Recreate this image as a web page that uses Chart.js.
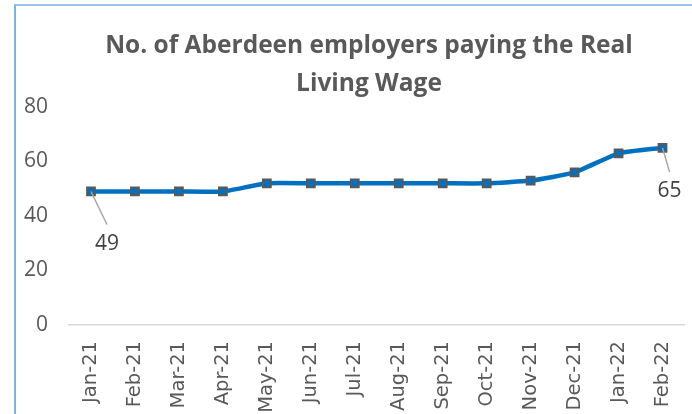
<!DOCTYPE html>
<html>
<head>
<meta charset="utf-8">
<script src="https://cdn.jsdelivr.net/npm/chart.js@4/dist/chart.umd.min.js"></script>
<style>
  html, body { margin: 0; padding: 0; background: #ffffff; }
  #wrap { position: relative; width: 692px; height: 414px; overflow: hidden; }
  #frame { position: absolute; left: 14px; top: 4px; width: 700px; height: 430px;
           border-left: 2px solid #7eb1de; border-top: 2px solid #9cc5ea; }
  canvas { position: absolute; left: 0; top: 0; }
</style>
</head>
<body>
<div id="wrap">
  <div id="frame"></div>
  <canvas id="c" width="692" height="414"></canvas>
</div>
<script>
const titleLines = ["No. of Aberdeen employers paying the Real", "Living Wage"];
const months = ["Jan-21","Feb-21","Mar-21","Apr-21","May-21","Jun-21","Jul-21","Aug-21","Sep-21","Oct-21","Nov-21","Dec-21","Jan-22","Feb-22"];
const employers = [49, 49, 49, 49, 52, 52, 52, 52, 52, 52, 53, 56, 63, 65];
const yTicks = [0, 20, 40, 60, 80];
const labelledPoints = [0, 13];

const frameTitle = {
  id: 'frameTitle',
  afterDraw(chart) {
    const ctx = chart.ctx;
    ctx.save();
    ctx.fillStyle = '#595959';
    ctx.font = 'bold 24.5px "Open Sans"';
    ctx.textAlign = 'center';
    ctx.textBaseline = 'middle';
    titleLines.forEach((t, i) => ctx.fillText(t, 369, 46 + i * 38));
    ctx.restore();
  }
};

const endLabels = {
  id: 'endLabels',
  afterDatasetsDraw(chart) {
    const meta = chart.getDatasetMeta(0);
    const ctx = chart.ctx;
    const leader = { 0: [16, 33, 20], 13: [7, 24, 19] };
    ctx.save();
    labelledPoints.forEach(i => {
      const p = meta.data[i];
      const [dx, dy, tdy] = leader[i];
      const lx = p.x + dx, ly = p.y + dy;
      ctx.strokeStyle = '#a6a6a6';
      ctx.lineWidth = 1.5;
      ctx.beginPath();
      ctx.moveTo(p.x, p.y);
      ctx.lineTo(lx, ly);
      ctx.stroke();
      ctx.fillStyle = '#404040';
      ctx.font = '21px "Open Sans"';
      ctx.textAlign = 'center';
      ctx.textBaseline = 'middle';
      ctx.fillText(String(employers[i]), lx, ly + tdy);
    });
    ctx.restore();
  }
};

new Chart(document.getElementById('c'), {
  type: 'line',
  data: {
    labels: months,
    datasets: [{
      data: employers,
      borderColor: '#0070c0',
      borderWidth: 4.5,
      backgroundColor: '#0070c0',
      pointStyle: 'rect',
      pointRadius: 5.5,
      pointBorderColor: '#595959',
      pointBorderWidth: 2,
      pointBackgroundColor: '#0070c0',
      tension: 0.15,
      fill: false
    }]
  },
  options: {
    responsive: false,
    animation: false,
    layout: { padding: { left: 0, right: 6, top: 107, bottom: 0 } },
    plugins: {
      legend: { display: false },
      tooltip: { enabled: false },
      title: { display: false }
    },
    scales: {
      x: {
        offset: true,
        grid: { display: false, drawTicks: false },
        border: { display: true, color: '#d9d9d9', width: 1.5 },
        ticks: {
          color: '#595959',
          font: { family: '"DejaVu Sans"', size: 19.5 },
          minRotation: 90, maxRotation: 90,
          padding: 16,
          autoSkip: false
        },
        afterFit(scale) { scale.height = 89; scale.paddingRight = 0; scale.paddingLeft = 0; }
      },
      y: {
        min: 0, max: 80,
        afterBuildTicks(scale) { scale.ticks = yTicks.map(v => ({ value: v })); },
        grid: { display: false, drawTicks: false },
        border: { display: false },
        ticks: {
          color: '#595959',
          font: { family: '"Open Sans"', size: 21 },
          padding: 21
        },
        afterFit(scale) { scale.width = 69; }
      }
    }
  },
  plugins: [endLabels, frameTitle]
});
</script>
</body>
</html>
